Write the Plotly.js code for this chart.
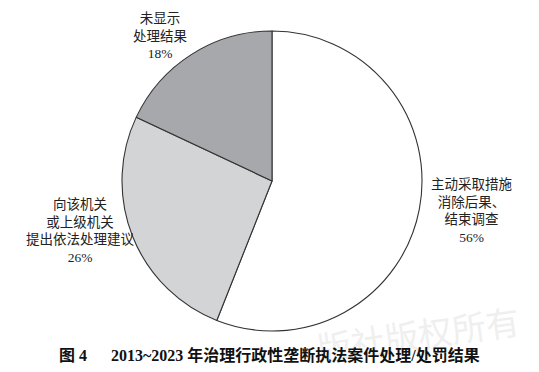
<!DOCTYPE html>
<html>
<head>
<meta charset="utf-8">
<script src="https://cdn.plot.ly/plotly-3.0.1.min.js"></script>
<style>html,body{margin:0;padding:0;background:#fff;}#chart{width:539px;height:372px;}</style>
</head>
<body>
<div id="chart"></div>
<script>
// Data
const categories = [
  "主动采取措施<br>消除后果、<br>结束调查",
  "向该机关<br>或上级机关<br>提出依法处理建议",
  "未显示<br>处理结果"
];
const values = [56, 26, 18];
const sliceColors = ["#ffffff", "#d3d4d6", "#a7a8ab"];
const captionText = "<b>图 4　  2013~2023 年治理行政性垄断执法案件处理/处罚结果</b>";
const watermarkText = "版社版权所有";

const labelFont = {family: "'Liberation Serif', 'Noto Sans CJK SC', serif", size: 13.5, color: "#222"};
const labelPos = [
  {x: 472, y: 211},
  {x: 80, y: 231},
  {x: 160, y: 36}
];

const W = 539, H = 372;
const annotations = categories.map((c, i) => ({
  text: c + "<br>" + values[i] + "%",
  x: labelPos[i].x / W, y: 1 - labelPos[i].y / H,
  xref: "paper", yref: "paper", showarrow: false,
  xanchor: "center", yanchor: "middle", align: "center",
  font: labelFont
}));
annotations.unshift({
  text: watermarkText, x: 418 / W, y: 1 - 333 / H, xref: "paper", yref: "paper",
  showarrow: false, textangle: -8, xanchor: "center", yanchor: "middle",
  font: {family: "'Noto Sans CJK SC', sans-serif", size: 34, color: "#efefef"}
});
annotations.push({
  text: captionText, x: 269 / W, y: 1 - 355 / H, xref: "paper", yref: "paper",
  showarrow: false, xanchor: "center", yanchor: "middle",
  font: {family: "'Liberation Serif', 'Noto Sans CJK SC', serif", size: 16, color: "#111"}
});

const cx = 272, cy = 181, r = 150;
const trace = {
  type: "pie",
  values: values,
  labels: categories,
  sort: false,
  direction: "clockwise",
  rotation: 0,
  marker: {colors: sliceColors, line: {color: "#333", width: 1.1}},
  textinfo: "none",
  hoverinfo: "none",
  domain: {x: [(cx - r) / W, (cx + r) / W], y: [(H - cy - r) / H, (H - cy + r) / H]}
};

Plotly.newPlot("chart", [trace], {
  width: W, height: H,
  margin: {l: 0, r: 0, t: 0, b: 0},
  showlegend: false,
  paper_bgcolor: "#fff",
  annotations: annotations
}, {staticPlot: true});
</script>
</body>
</html>
